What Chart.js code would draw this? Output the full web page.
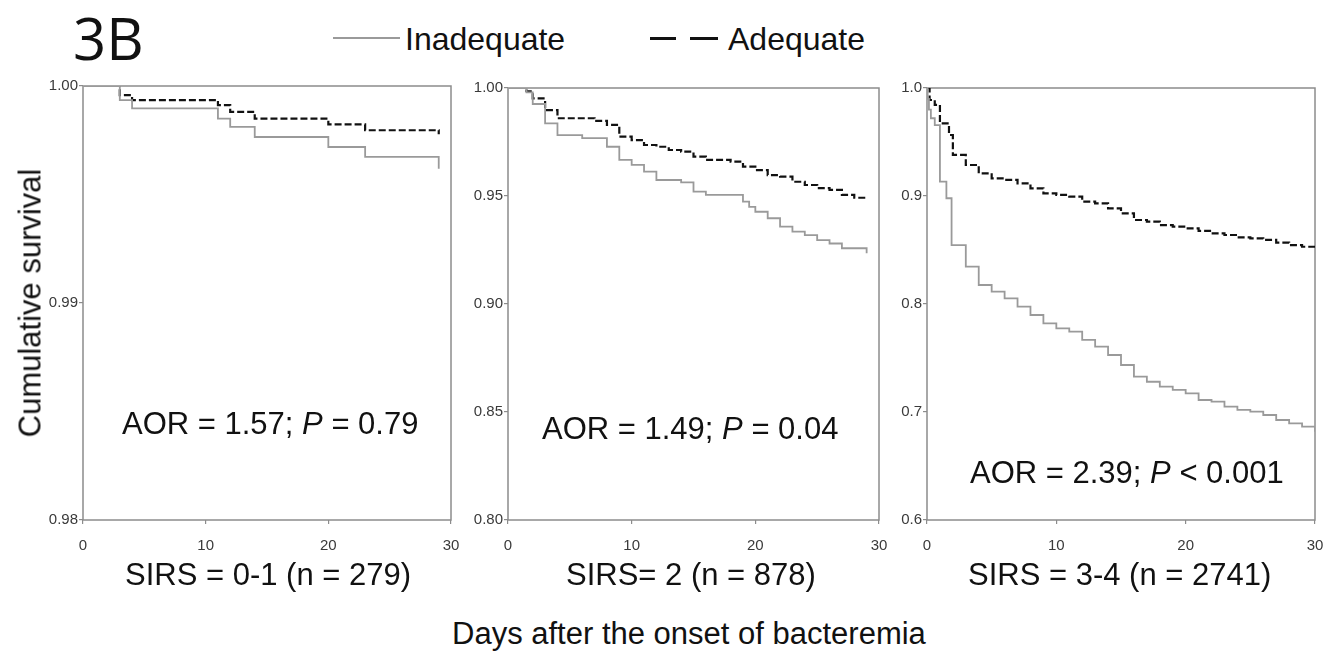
<!DOCTYPE html>
<html>
<head>
<meta charset="utf-8">
<script src="https://cdn.jsdelivr.net/npm/chart.js@4/dist/chart.umd.min.js"></script>
<style>
  html, body { margin:0; padding:0; background:#fff; }
  #wrap { position:relative; width:1333px; height:651px; overflow:hidden; background:#fff; font-family:"Liberation Sans", Arial, sans-serif; color:#111; }
  canvas { position:absolute; }
  .t { position:absolute; white-space:nowrap; line-height:1; }
</style>
</head>
<body>
<div id="wrap"></div>
<script>
// ---------- DATA ----------
const xTicks = [0, 10, 20, 30];

// Panel 1: SIRS = 0-1
const p1YTicks = [0.98, 0.99, 1.00];
const p1InadDays = [0, 3, 4, 11, 12, 14, 20, 23, 29];
const p1InadSurv = [1.0, 0.99935, 0.99897, 0.9985, 0.99812, 0.99765, 0.99719, 0.99673, 0.99619];
const p1AdeqDays = [0, 3, 4, 11, 12, 14, 20, 23, 29];
const p1AdeqSurv = [1.0, 0.99958, 0.99935, 0.99912, 0.99881, 0.9985, 0.99823, 0.99796, 0.99778];

// Panel 2: SIRS = 2
const p2YTicks = [0.80, 0.85, 0.90, 0.95, 1.00];
const p2InadDays = [0, 1.5, 2, 3, 4, 6, 8, 9, 10, 11, 12, 14, 15, 16, 19, 19.5, 20, 21, 22, 23, 24, 25, 26, 27, 29];
const p2InadSurv = [1.0, 0.998, 0.9926, 0.9836, 0.9782, 0.9768, 0.9728, 0.9667, 0.9644, 0.9613, 0.9574, 0.9563, 0.952, 0.9505, 0.9474, 0.945, 0.9427, 0.9397, 0.9358, 0.9335, 0.9319, 0.9296, 0.928, 0.9258, 0.9235];
const p2AdeqDays = [0, 1.5, 2, 3, 4, 7, 8, 9, 10, 11, 12, 13, 14, 15, 16, 18, 19, 20, 21, 22, 23, 24, 25, 26, 27, 28, 29];
const p2AdeqSurv = [1.0, 0.9985, 0.9952, 0.9898, 0.986, 0.9848, 0.9829, 0.9775, 0.9759, 0.9736, 0.9728, 0.9713, 0.9705, 0.9682, 0.9667, 0.9659, 0.9636, 0.962, 0.9597, 0.959, 0.9566, 0.9551, 0.9536, 0.9528, 0.9505, 0.9492, 0.9489];

// Panel 3: SIRS = 3-4
const p3YTicks = [0.6, 0.7, 0.8, 0.9, 1.0];
const p3InadDays = [0, 0.05, 0.15, 0.3, 0.6, 1.0, 1.5, 1.9, 3.0, 4, 5, 6, 7, 8, 9, 10, 11, 12, 13, 14, 15, 16, 17, 18, 19, 20, 21, 22, 23, 24, 25, 26, 27, 28, 29, 30];
const p3InadSurv = [1.0, 0.99, 0.98, 0.972, 0.9657, 0.9133, 0.8979, 0.8546, 0.8346, 0.8176, 0.8114, 0.8053, 0.7975, 0.7898, 0.7821, 0.7775, 0.7744, 0.7667, 0.7605, 0.7528, 0.7435, 0.7327, 0.728, 0.7235, 0.7204, 0.7173, 0.7111, 0.7096, 0.7049, 0.7019, 0.7003, 0.6972, 0.6926, 0.6895, 0.6864, 0.6818];
const p3AdeqDays = [0, 0.2, 0.6, 1.0, 1.7, 2.0, 3.0, 4, 5, 6, 7, 8, 9, 10, 11, 12, 13, 14, 15, 16, 17, 18, 19, 20, 21, 22, 23, 24, 25, 26, 27, 28, 29, 30];
const p3AdeqSurv = [1.0, 0.9889, 0.9843, 0.9673, 0.9565, 0.938, 0.9287, 0.921, 0.9164, 0.915, 0.9117, 0.9071, 0.9025, 0.901, 0.8994, 0.8947, 0.8932, 0.8886, 0.884, 0.8778, 0.8762, 0.8731, 0.8716, 0.870, 0.8677, 0.8654, 0.8639, 0.8617, 0.8608, 0.8593, 0.8568, 0.8546, 0.853, 0.8516];

const seriesNames = ["Inadequate", "Adequate"];
const panelTitles = ["SIRS = 0-1 (n = 279)", "SIRS= 2 (n = 878)", "SIRS = 3-4 (n = 2741)"];
const aorTexts = ["AOR = 1.57; <i>P</i> = 0.79", "AOR = 1.49; <i>P</i> = 0.04", "AOR = 2.39; <i>P</i> &lt; 0.001"];

// ---------- LAYOUT ----------
const wrap = document.getElementById('wrap');
const YW = 50, PT = 12, PR = 28, XH = 44;
const GRAY = '#8c8c8c';
const TICKFONT = { family: '"Liberation Sans Narrow", "Arial Narrow", "Liberation Sans", sans-serif', size: 15 };

const panels = [
  { area: {l: 83, t: 86, r: 451, b: 520}, yTicks: p1YTicks, dec: 2,
    inad: [p1InadDays, p1InadSurv], adeq: [p1AdeqDays, p1AdeqSurv] },
  { area: {l: 508, t: 88, r: 879, b: 520}, yTicks: p2YTicks, dec: 2,
    inad: [p2InadDays, p2InadSurv], adeq: [p2AdeqDays, p2AdeqSurv] },
  { area: {l: 927, t: 88, r: 1315, b: 520}, yTicks: p3YTicks, dec: 1,
    inad: [p3InadDays, p3InadSurv], adeq: [p3AdeqDays, p3AdeqSurv] },
];

const framePlugin = {
  id: 'frame',
  beforeDatasetsDraw(chart) {
    const {ctx, chartArea: a} = chart;
    ctx.save();
    ctx.strokeStyle = GRAY;
    ctx.lineWidth = 1.5;
    ctx.strokeRect(a.left, a.top, a.right - a.left, a.bottom - a.top);
    ctx.restore();
  }
};

const toXY = (d, s) => d.map((x, i) => ({x, y: s[i]}));

panels.forEach((p) => {
  const a = p.area;
  const cv = document.createElement('canvas');
  const left = a.l - YW, top = a.t - PT;
  const w = a.r + PR - left, h = a.b + XH - top;
  cv.width = w; cv.height = h;
  cv.style.left = left + 'px'; cv.style.top = top + 'px';
  cv.style.width = w + 'px'; cv.style.height = h + 'px';
  wrap.appendChild(cv);
  const yMin = p.yTicks[0], yMax = p.yTicks[p.yTicks.length - 1];
  new Chart(cv, {
    type: 'line',
    data: {
      datasets: [
        { label: seriesNames[0], data: toXY(p.inad[0], p.inad[1]), borderColor: '#9a9a9a', borderWidth: 1.8,
          stepped: 'before', pointRadius: 0, fill: false, tension: 0 },
        { label: seriesNames[1], data: toXY(p.adeq[0], p.adeq[1]), borderColor: '#111', borderWidth: 2.2,
          borderDash: [7, 3], stepped: 'before', pointRadius: 0, fill: false, tension: 0 },
      ]
    },
    options: {
      responsive: false, animation: false, devicePixelRatio: 1,
      layout: { padding: { left: 0, top: PT, right: PR, bottom: 0 } },
      plugins: { legend: { display: false }, tooltip: { enabled: false } },
      scales: {
        x: {
          type: 'linear', min: 0, max: 30,
          afterBuildTicks: s => { s.ticks = xTicks.map(v => ({ value: v })); },
          afterFit: s => { s.height = XH; },
          grid: { drawOnChartArea: false, drawTicks: true, tickLength: 4, color: GRAY, lineWidth: 1.2 },
          border: { display: false },
          ticks: { font: TICKFONT, color: '#3a3a3a', padding: 13, maxRotation: 0, callback: v => String(v) }
        },
        y: {
          type: 'linear', min: yMin, max: yMax,
          afterBuildTicks: s => { s.ticks = p.yTicks.map(v => ({ value: v })); },
          afterFit: s => { s.width = YW; },
          grid: { drawOnChartArea: false, drawTicks: true, tickLength: 4, color: GRAY, lineWidth: 1.2 },
          border: { display: false },
          ticks: { font: TICKFONT, color: '#3a3a3a', padding: 1, callback: v => Number(v).toFixed(p.dec) }
        }
      }
    },
    plugins: [framePlugin]
  });
});

// ---------- TEXT ----------
function addText(html, x, cy, size, opts = {}) {
  const d = document.createElement('div');
  d.className = 't';
  d.innerHTML = html;
  d.style.fontSize = size + 'px';
  if (opts.family) d.style.fontFamily = opts.family;
  d.style.top = cy + 'px';
  d.style.left = x + 'px';
  let tr = 'translateY(-50%)';
  if (opts.rotate) tr = 'translate(-50%,-50%) rotate(-90deg)';
  d.style.transform = tr;
  wrap.appendChild(d);
  return d;
}

addText('3B', 73, 38, 58, { family: '"Open Sans", "Liberation Sans", sans-serif' });

// legend
const lg1 = document.createElement('div');
lg1.style.cssText = 'position:absolute;left:333px;top:37px;width:67px;height:0;border-top:2.5px solid #9a9a9a;';
wrap.appendChild(lg1);
addText(seriesNames[0], 405, 39, 32);
[[650, 26], [690, 28]].forEach(([l, w]) => {
  const s = document.createElement('div');
  s.style.cssText = `position:absolute;left:${l}px;top:37px;width:${w}px;height:0;border-top:3px solid #111;`;
  wrap.appendChild(s);
});
addText(seriesNames[1], 728, 39, 32);

addText('Cumulative survival', 30, 303, 31, { rotate: true });

addText(panelTitles[0], 125, 574, 31);
addText(panelTitles[1], 566, 574, 31);
addText(panelTitles[2], 968, 574, 31);

addText('Days after the onset of bacteremia', 452, 633, 31);

addText(aorTexts[0], 122, 423, 31);
addText(aorTexts[1], 542, 428, 31);
addText(aorTexts[2], 970, 472, 31);
</script>
</body>
</html>
